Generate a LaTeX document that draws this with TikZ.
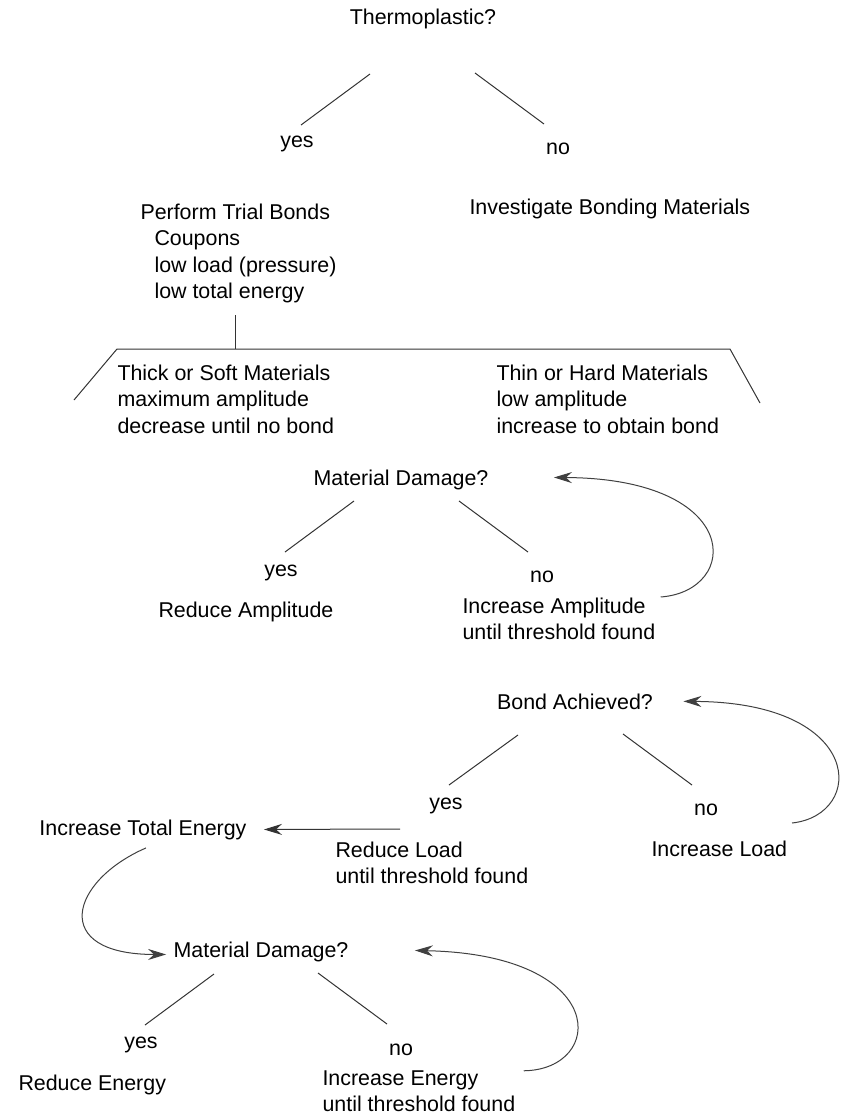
\documentclass[tikz,border=0pt]{standalone}
\usepackage{fontspec}
\setmainfont{Liberation Sans}
\usetikzlibrary{arrows.meta, positioning, calc}

\begin{document}
\begin{tikzpicture}[
    x=0.5pt, y=-0.5pt,
    font=\fontsize{10.7}{13.25}\selectfont,
    line width=0.5pt,
    every node/.style={inner sep=0pt},
    question/.style={anchor=base},
    answer/.style={anchor=base},
    action/.style={anchor=base west, align=left},
    branch/.style={draw=black!80},
    arrow/.style={draw=black!80, -{Stealth[length=9pt, width=5.5pt, inset=3pt]}},
    back/.style={draw=black!75, -{Stealth[length=9pt, width=5.5pt, inset=3pt]}}
]
\useasboundingbox (0,0) rectangle (842,1113);

% ================= Top (thermoplastic decision) =================
\node[question] (thermo) at (423,25) {Thermoplastic?};
\node[answer] (yes1) at (297,148) {yes};
\node[answer] (no1) at (558,155) {no};
% multi-line actions sit on the baseline of their last line
\node[action] (trial) at (140,298.5) {Perform Trial Bonds\\\hspace*{7pt}Coupons\\\hspace*{7pt}low load (pressure)\\\hspace*{7pt}low total energy};
\node[action] (invest) at (469,214) {Investigate Bonding Materials};

\draw[branch] ($(thermo.base)+(-53,49)$) -- ($(yes1.base)+(4,-23)$);
\draw[branch] ($(thermo.base)+(52,48)$) -- ($(no1.base)+(-14,-31)$);

% ================= Material split =================
\node[action] (thick) at (117,433) {Thick or Soft Materials\\maximum amplitude\\decrease until no bond};
\node[action] (thin) at (496,433) {Thin or Hard Materials\\low amplitude\\increase to obtain bond};

\coordinate (split) at (235,349);
\coordinate (splitL) at (117,349);
\coordinate (splitR) at (730,349);
\coordinate (footL) at (74,400);
\coordinate (footR) at (760,403);

\draw[branch] ($(split |- trial.south)+(0,12)$) -- (split);
\draw[branch] (footL) -- (splitL) -- (splitR) -- (footR);

% ================= Amplitude check =================
\node[question] (dmg1) at (401,485) {Material Damage?};
\node[answer] (yes2) at (281,576) {yes};
\node[answer] (no2) at (542,582) {no};
\node[action] (redamp) at (158,617) {Reduce Amplitude};
\node[action] (incamp) at (462,639.5) {Increase Amplitude\\until threshold found};

\draw[branch] ($(dmg1.base)+(-47,16)$) -- ($(yes2.base)+(4,-24)$);
\draw[branch] ($(dmg1.base)+(58,16)$) -- ($(no2.base)+(-14,-30)$);
% loop back to the damage check
\draw[back] ($(incamp.north east)+(5,0)$) .. controls ($(incamp.north east)+(85,-6)$) and ($(dmg1.east)+(255,-1)$) .. ($(dmg1.east)+(65,-2)$);

% ================= Load check =================
\node[question] (bond) at (575,709) {Bond Achieved?};
\node[answer] (yes3) at (446,809) {yes};
\node[answer] (no3) at (706,815) {no};
\node[action] (incenergy) at (39,835) {Increase Total Energy};
\node[action] (redload) at (335,883.5) {Reduce Load\\until threshold found};
\node[action] (incload) at (651,856) {Increase Load};

\draw[branch] ($(bond.base)+(-57,26)$) -- ($(yes3.base)+(3,-24)$);
\draw[branch] ($(bond.base)+(48,25)$) -- ($(no3.base)+(-14,-30)$);
\draw[arrow] ($(yes3.base)+(-46,20)$) -- ($(incenergy.east)+(17,0)$);
\draw[back] ($(no3.base)+(86,8)$) .. controls ($(no3.base)+(160,0)$) and ($(bond.east)+(212,1)$) .. ($(bond.east)+(30,0)$);

% ================= Energy check =================
\node[question] (dmg2) at (261,957) {Material Damage?};
\node[answer] (yes4) at (141,1048) {yes};
\node[answer] (no4) at (401,1055) {no};
\node[action] (redenergy) at (18,1090) {Reduce Energy};
\node[action] (incenergyb) at (322,1111.5) {Increase Energy\\until threshold found};

\draw[branch] ($(dmg2.base)+(-47,17)$) -- ($(yes4.base)+(4,-23)$);
\draw[branch] ($(dmg2.base)+(57,16)$) -- ($(no4.base)+(-14,-31)$);
\draw[back] ($(incenergy.south)+(3,8)$) .. controls ($(incenergy.south)+(-73,41)$) and ($(dmg2.west)+(-124,3)$) .. ($(dmg2.west)+(-7,3)$);
\draw[back] ($(incenergyb.north east)+(8,1)$) .. controls ($(incenergyb.north east)+(90,0)$) and ($(dmg2.east)+(262,3)$) .. ($(dmg2.east)+(66,-1)$);

\end{tikzpicture}
\end{document}
